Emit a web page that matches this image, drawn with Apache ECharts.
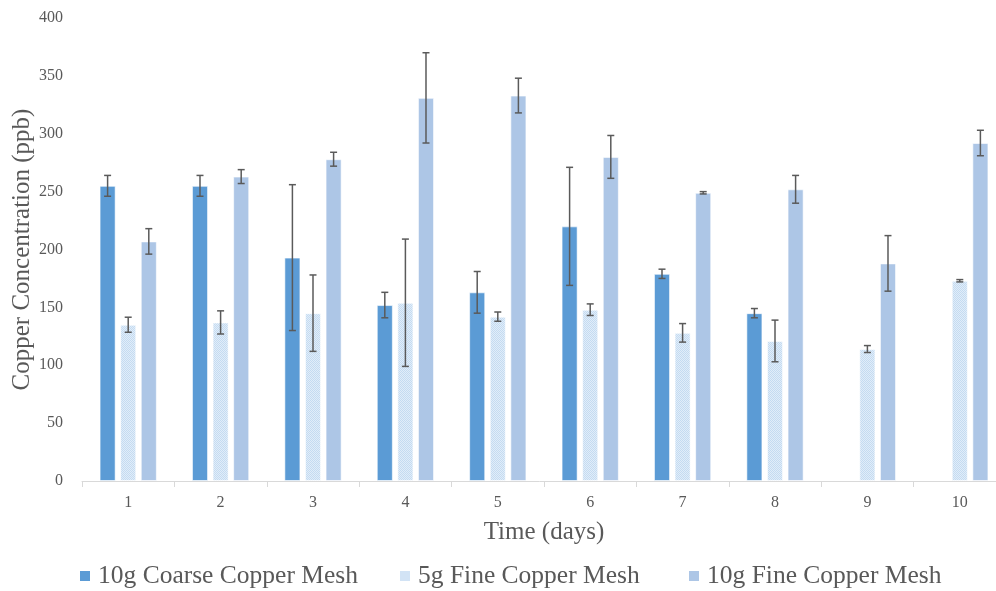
<!DOCTYPE html>
<html>
<head>
<meta charset="utf-8">
<script src="https://cdn.jsdelivr.net/npm/echarts@6/dist/echarts.min.js"></script>
<style>html,body{margin:0;padding:0;background:#fff}#c{width:996px;height:591px}</style>
</head>
<body>
<div id="c"></div>
<script>
var categories = ['1','2','3','4','5','6','7','8','9','10'];
var seriesNames = ['10g Coarse Copper Mesh','5g Fine Copper Mesh','10g Fine Copper Mesh'];
var coarse10 = [255, 255, 193, 152, 163, 220, 179, 145, null, null];
var coarse10Err = [9, 9, 63, 11, 18, 51, 4, 4, null, null];
var fine5 = [135, 137, 145, 154, 142, 148, 128, 121, 114, 173];
var fine5Err = [6.5, 10, 33, 55, 4, 5, 8, 18, 3, 1];
var fine10 = [207, 263, 278, 331, 333, 280, 249, 252, 188, 292];
var fine10Err = [11, 6, 6, 39, 15, 18.5, 1, 12, 24, 11];
var yTicks = [0, 50, 100, 150, 200, 250, 300, 350, 400];

var chart = echarts.init(document.getElementById('c'));

// pattern for 5g fine
var pc = document.createElement('canvas');
pc.width = 4; pc.height = 4;
var pctx = pc.getContext('2d');
pctx.fillStyle = '#e1edf9'; pctx.fillRect(0,0,4,4);
pctx.fillStyle = '#c4dbf1';
pctx.fillRect(0,0,1,1); pctx.fillRect(2,0,1,1); pctx.fillRect(1,1,1,1); pctx.fillRect(3,1,1,1);
pctx.fillRect(0,2,1,1); pctx.fillRect(2,2,1,1); pctx.fillRect(1,3,1,1); pctx.fillRect(3,3,1,1);

var colors = ['#5b9bd5', {image: pc, repeat: 'repeat'}, '#adc6e6'];
var legendColors = ['#5b9bd5', '#d2e3f5', '#adc6e6'];
var legendLeft = [80, 400, 689];
var vals = [coarse10, fine5, fine10];
var errs = [coarse10Err, fine5Err, fine10Err];
var catGap = 0.38, barGapR = 0.28;

var font = 'Liberation Serif';
var series = [];
for (var s = 0; s < 3; s++) {
  series.push({
    name: seriesNames[s], type: 'bar', data: vals[s],
    barCategoryGap: (catGap*100)+'%', barGap: (barGapR*100)+'%',
    itemStyle: {color: colors[s], borderColor: 'rgba(255,255,255,0.6)', borderWidth: 1},
    emphasis: {disabled: true}
  });
}
for (var s2 = 0; s2 < 3; s2++) {
  (function(s){
    var d = [];
    for (var i = 0; i < categories.length; i++) {
      if (vals[s][i] != null) d.push([i, vals[s][i] - errs[s][i], vals[s][i] + errs[s][i]]);
    }
    series.push({
      type: 'custom', silent: true, z: 10,
      renderItem: function(params, api){
        var i = api.value(0);
        var band = api.size([1, 0])[0];
        var w = band * (1 - catGap) / (3 + 2*barGapR);
        var off = (s - 1) * w * (1 + barGapR);
        var lo = api.coord([i, api.value(1)]);
        var hi = api.coord([i, api.value(2)]);
        var x = lo[0] + off;
        var cap = 3.5;
        var st = {stroke: '#5a5a5a', lineWidth: 1.5};
        return {type: 'group', children: [
          {type: 'line', shape: {x1: x, y1: lo[1], x2: x, y2: hi[1]}, style: st},
          {type: 'line', shape: {x1: x-cap, y1: lo[1], x2: x+cap, y2: lo[1]}, style: st},
          {type: 'line', shape: {x1: x-cap, y1: hi[1], x2: x+cap, y2: hi[1]}, style: st}
        ]};
      },
      encode: {x: 0, y: [1, 2]},
      data: d
    });
  })(s2);
}

var legends = seriesNames.map(function(n, k){
  return {
    top: 563, left: legendLeft[k], padding: 0, itemWidth: 10, itemHeight: 10, itemGap: 0,
    icon: 'rect', selectedMode: false,
    textStyle: {fontFamily: font, fontSize: 25.5, color: '#595959', padding: [0,0,0,3]},
    data: [{name: n, itemStyle: {color: legendColors[k], borderWidth: 0}}]
  };
});

chart.setOption({
  animation: false,
  textStyle: {fontFamily: font},
  grid: {left: 82, top: 18, width: 924, height: 463, containLabel: false, outerBoundsMode: 'none'},
  legend: legends,
  xAxis: {
    type: 'category', data: categories,
    name: 'Time (days)', nameLocation: 'middle', nameGap: 39, nameMoveOverlap: false,
    nameTextStyle: {fontFamily: font, fontSize: 25, color: '#595959'},
    axisLine: {lineStyle: {color: '#d9d9d9', width: 1}},
    axisTick: {show: true, length: 6, lineStyle: {color: '#d9d9d9'}},
    axisLabel: {fontFamily: font, fontSize: 16, color: '#595959', margin: 14}
  },
  yAxis: {
    type: 'value', min: yTicks[0], max: yTicks[yTicks.length-1], interval: 50,
    name: 'Copper Concentration (ppb)', nameLocation: 'middle', nameGap: 47, nameMoveOverlap: false,
    nameTextStyle: {fontFamily: font, fontSize: 25, color: '#595959'},
    axisLine: {show: false}, axisTick: {show: false},
    splitLine: {show: false},
    axisLabel: {fontFamily: font, fontSize: 16, color: '#595959', margin: 19}
  },
  series: series
});
</script>
</body>
</html>
